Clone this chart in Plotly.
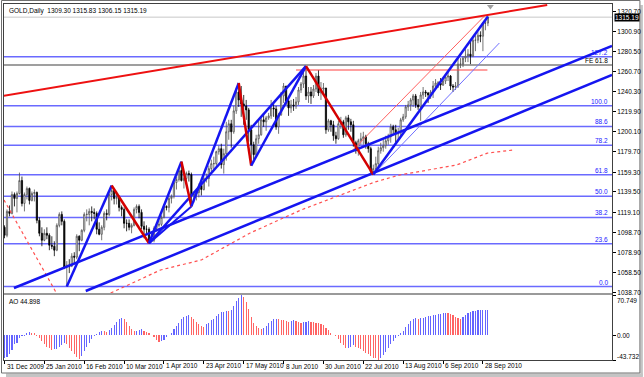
import plotly.graph_objects as go

# ---------------- data ----------------
date_labels = ["31 Dec 2009", "25 Jan 2010", "16 Feb 2010", "10 Mar 2010", "1 Apr 2010",
               "23 Apr 2010", "17 May 2010", "8 Jun 2010", "30 Jun 2010", "22 Jul 2010",
               "13 Aug 2010", "6 Sep 2010", "28 Sep 2010"]
date_pos = [0, 16, 32, 48, 64, 80, 96, 112, 128, 144, 160, 176, 192]

price_ticks = [1038.70, 1058.50, 1078.90, 1098.70, 1119.10, 1139.50, 1159.30, 1179.70,
               1200.10, 1219.90, 1240.30, 1260.70, 1280.50, 1300.90, 1320.70]

opens = [1104, 1096, 1120, 1118, 1137, 1133, 1138, 1151, 1128, 1137, 1143, 1131, 1138, 1139, 1111, 1098,
         1091, 1098, 1096, 1086, 1085, 1081, 1106, 1117, 1110, 1064, 1066, 1065, 1075, 1074, 1095, 1091,
         1101, 1117, 1117, 1120, 1119, 1118, 1102, 1097, 1104, 1118, 1117, 1137, 1141, 1133, 1134, 1124,
         1122, 1108, 1108, 1104, 1106, 1122, 1125, 1119, 1105, 1102, 1102, 1090, 1091, 1103, 1106, 1107,
         1114, 1125, 1124, 1133, 1135, 1149, 1152, 1161, 1151, 1153, 1158, 1157, 1136, 1137, 1139, 1146,
         1142, 1153, 1153, 1163, 1168, 1168, 1180, 1183, 1167, 1178, 1200, 1208, 1200, 1221, 1240, 1232,
         1228, 1226, 1222, 1202, 1187, 1177, 1193, 1197, 1212, 1210, 1214, 1216, 1224, 1223, 1205, 1217,
         1236, 1246, 1231, 1224, 1227, 1226, 1230, 1242, 1248, 1256, 1236, 1240, 1236, 1243, 1256, 1239,
         1243, 1244, 1202, 1211, 1207, 1196, 1193, 1208, 1210, 1197, 1214, 1210, 1207, 1189, 1181, 1191,
         1193, 1195, 1188, 1183, 1160, 1163, 1168, 1181, 1184, 1186, 1191, 1195, 1205, 1202, 1198, 1199,
         1212, 1215, 1225, 1227, 1232, 1236, 1227, 1225, 1237, 1240, 1239, 1237, 1240, 1246, 1249, 1249,
         1247, 1251, 1255, 1256, 1246, 1245, 1246, 1268, 1268, 1274, 1276, 1278, 1276, 1292, 1292, 1297,
         1296, 1309, 1309.30]
highs = [1106, 1122, 1126, 1140, 1139, 1140, 1159, 1155, 1139, 1145, 1144, 1140, 1142, 1140, 1114, 1104,
         1102, 1104, 1098, 1095, 1090, 1108, 1119, 1120, 1112, 1070, 1072, 1078, 1079, 1097, 1096, 1102,
         1119, 1122, 1123, 1125, 1123, 1120, 1109, 1106, 1120, 1122, 1139, 1146, 1142, 1140, 1136, 1126,
         1124, 1112, 1112, 1108, 1124, 1127, 1127, 1122, 1110, 1106, 1104, 1098, 1105, 1109, 1111, 1116,
         1127, 1126, 1136, 1137, 1152, 1155, 1163, 1170, 1155, 1160, 1161, 1159, 1140, 1142, 1148, 1149,
         1155, 1158, 1166, 1172, 1175, 1181, 1186, 1188, 1183, 1210, 1212, 1212, 1226, 1244, 1249, 1246,
         1237, 1232, 1224, 1207, 1190, 1197, 1212, 1215, 1218, 1216, 1219, 1232, 1229, 1226, 1219, 1240,
         1249, 1246, 1234, 1232, 1233, 1235, 1245, 1250, 1260, 1266, 1245, 1245, 1247, 1259, 1262, 1250,
         1249, 1244, 1213, 1212, 1211, 1200, 1211, 1215, 1212, 1216, 1217, 1213, 1211, 1191, 1193, 1199,
         1200, 1197, 1190, 1185, 1167, 1175, 1185, 1189, 1192, 1196, 1198, 1208, 1207, 1207, 1204, 1214,
         1218, 1227, 1231, 1234, 1238, 1238, 1233, 1240, 1245, 1242, 1240, 1242, 1251, 1253, 1251, 1254,
         1254, 1258, 1260, 1257, 1248, 1250, 1275, 1274, 1276, 1283, 1283, 1291, 1295, 1297, 1300, 1301,
         1310, 1312, 1315.83]
lows = [1093, 1094, 1115, 1117, 1125, 1119, 1137, 1125, 1120, 1132, 1127, 1130, 1130, 1108, 1095, 1085,
        1090, 1092, 1081, 1082, 1075, 1080, 1104, 1106, 1062, 1044.5, 1058, 1064, 1068, 1072, 1080, 1090,
        1099, 1110, 1106, 1110, 1112, 1097, 1096, 1091, 1101, 1111, 1115, 1131, 1127, 1127, 1120, 1115,
        1103, 1100, 1101, 1098, 1105, 1118, 1113, 1102, 1093, 1097, 1088, 1089, 1089, 1100, 1104, 1105,
        1113, 1121, 1119, 1128, 1133, 1142, 1150, 1150, 1143, 1149, 1150, 1125, 1129, 1131, 1134, 1136,
        1141, 1149, 1145, 1160, 1162, 1166, 1177, 1163, 1158, 1171, 1192, 1184, 1198, 1218, 1225, 1215,
        1207, 1212, 1190, 1166, 1172, 1175, 1188, 1196, 1205, 1201, 1212, 1213, 1215, 1202, 1198, 1216,
        1229, 1227, 1216, 1219, 1221, 1223, 1227, 1239, 1244, 1232, 1229, 1228, 1234, 1240, 1236, 1232,
        1238, 1198, 1200, 1200, 1191, 1188, 1192, 1203, 1194, 1195, 1202, 1200, 1185, 1178, 1176, 1187,
        1187, 1183, 1179, 1158, 1157, 1160, 1163, 1178, 1180, 1183, 1187, 1189, 1198, 1189, 1192, 1195,
        1210, 1213, 1221, 1221, 1225, 1224, 1222, 1211, 1233, 1235, 1229, 1233, 1234, 1245, 1244, 1242,
        1246, 1248, 1251, 1242, 1240, 1242, 1244, 1264, 1265, 1270, 1270, 1268, 1275, 1281, 1289, 1290,
        1281, 1302, 1306.15]
closes = [1096, 1120, 1118, 1137, 1133, 1138, 1151, 1128, 1137, 1143, 1131, 1138, 1139, 1111, 1098, 1091,
          1098, 1096, 1086, 1085, 1081, 1106, 1117, 1110, 1064, 1066, 1065, 1075, 1074, 1095, 1091, 1101,
          1117, 1117, 1120, 1119, 1118, 1102, 1097, 1104, 1118, 1117, 1137, 1141, 1133, 1134, 1124, 1122,
          1108, 1108, 1104, 1106, 1122, 1125, 1119, 1105, 1102, 1102, 1090, 1091, 1103, 1106, 1107, 1114,
          1125, 1124, 1133, 1135, 1149, 1152, 1161, 1151, 1153, 1158, 1157, 1136, 1137, 1139, 1146, 1142,
          1153, 1153, 1163, 1168, 1168, 1180, 1183, 1167, 1178, 1200, 1208, 1200, 1221, 1240, 1232, 1228,
          1226, 1222, 1202, 1187, 1177, 1193, 1197, 1212, 1210, 1214, 1216, 1224, 1223, 1205, 1217, 1236,
          1246, 1231, 1224, 1227, 1226, 1230, 1242, 1248, 1256, 1236, 1240, 1236, 1243, 1256, 1239, 1243,
          1244, 1202, 1211, 1207, 1196, 1193, 1208, 1210, 1197, 1214, 1210, 1207, 1189, 1181, 1191, 1193,
          1195, 1188, 1183, 1160, 1163, 1168, 1181, 1184, 1186, 1191, 1195, 1205, 1202, 1198, 1199, 1212,
          1215, 1225, 1227, 1232, 1236, 1227, 1225, 1237, 1240, 1239, 1237, 1240, 1246, 1249, 1249, 1247,
          1251, 1255, 1256, 1246, 1245, 1246, 1268, 1268, 1274, 1276, 1278, 1276, 1292, 1292, 1297, 1296,
          1309, 1309, 1315.19]

ao_values = [-41, -39, -33, -26, -16, -13, -5, -2, -1, 3, 5, 4.5, 3, -2, -5, -10, -15, -20, -23, -26,
             -25, -24, -21, -17, -14, -16, -22, -28, -34, -39, -42, -36, -28, -20, -13, -6, -2, 2, 6, 8,
             7, 6, 9, 13, 18, 24, 28, 30, 29, 24, 16, 10, 7, 8, 9, 10, 8, 6, 4, 1,
             -3, -8, -12, -11, -8, -4, 0, 4, 10, 16, 22, 28, 32, 34, 35, 32, 28, 24, 20, 17,
             15, 19, 22, 26, 29, 33, 37, 40, 41, 43, 42, 45, 52, 60, 66, 70.749, 68, 59, 46, 32,
             22, 16, 12, 10, 13, 17, 21, 25, 28, 29, 28, 27, 26, 25, 24, 25, 26, 25, 24, 22,
             23, 24, 25, 24, 23, 22, 21, 20, 18, 13, 9, 4, 1, -2, -7, -13, -18, -23, -22, -20,
             -18, -20, -22, -25, -28, -31, -34, -37, -40, -41, -43.732, -40, -35, -29, -22, -16, -10, -5, -1, 3,
             8, 14, 20, 25, 28, 30, 29, 30, 31, 32, 33, 34, 35, 36, 37, 38, 39, 39.5, 39, 37,
             35, 32, 30, 29, 32, 36, 39, 41, 42, 43, 43.5, 44, 44.3, 44.6, 44.898]

# zigzag pivots (bar, price)
zz_bars = [25, 43, 58, 71, 75, 94, 99, 121, 148, 194]
zz_prices = [1044.5, 1146, 1088, 1170, 1125, 1249, 1166, 1266, 1157, 1315.83]

# trend lines (bar, price end points)
lineA_bars, lineA_prices = [3.8, 243.8], [1043.0, 1286.2]
lineB_bars, lineB_prices = [32.6, 243.8], [1040.0, 1257.1]
redtrend_bars, redtrend_prices = [-0.6, 217.8], [1236.0, 1327.4]
thinred_bars, thinred_prices = [138.6, 193.0], [1178.7, 1317.3]
thinblue_bars, thinblue_prices = [147.8, 198.6], [1156.6, 1289.2]
redh_bars, redh_prices = [117, 193.8], [1262.1, 1262.1]
ma_bars = [42.6, 62.6, 79, 98.6, 119, 148.6, 158.6, 181.4, 193.8, 204.6]
ma_prices = [1038.0, 1061.1, 1071.2, 1098.3, 1121.4, 1149.5, 1156.6, 1166.6, 1178.6, 1181.8]
leftdot_bars, leftdot_prices = [-0.2, 20.6], [1131.5, 1039.0]

fib_labels = ["0.0", "23.6", "38.2", "50.0", "61.8", "78.2", "88.6", "100.0", "127.2"]
fib_prices = [1044.5, 1087.4, 1113.9, 1135.3, 1156.7, 1186.5, 1205.4, 1226.1, 1275.5]
fe_price = 1267.1
last_price = 1315.19
header = "GOLD,Daily  1309.30 1315.83 1306.15 1315.19"
ao_label = "AO 44.898"
ao_ticks = [70.749, 0.0, -43.732]
ao_ticktext = ["70.749", "0.00", "-43.732"]

# ---------------- figure ----------------
W, H = 644, 377
ML, MR, MT, MB = 3, 31, 4, 17
PW, PH = W - ML - MR, H - MT - MB
FONT = "Liberation Sans, Arial, sans-serif"


def px_x(px):
    return (px - ML) / PW


def px_y(py):
    return (H - MB - py) / PH


main_dom = [px_y(293), 1.0]
ao_dom = [0.0, px_y(295)]
xr = [-0.2, 243.8]

bars = list(range(len(closes)))
fig = go.Figure()

BLUE = "#1515f0"
RED = "#d40000"
FIBC = "#6a6aff"

shapes = []
for p in fib_prices:
    shapes.append(dict(type="line", xref="paper", x0=0, x1=1, yref="y", y0=p, y1=p,
                       line=dict(color=FIBC, width=1.5), layer="below"))
shapes.append(dict(type="line", xref="paper", x0=0, x1=1, yref="y", y0=fe_price, y1=fe_price,
                   line=dict(color="#404040", width=1.2), layer="below"))
shapes.append(dict(type="line", xref="paper", x0=0, x1=1, yref="y", y0=last_price, y1=last_price,
                   line=dict(color="#c8c8c8", width=1), layer="below"))


def seg(xs, ys, color, width, dash=None):
    fig.add_trace(go.Scatter(x=xs, y=ys, mode="lines", xaxis="x", yaxis="y",
                             line=dict(color=color, width=width, dash=dash),
                             hoverinfo="skip", showlegend=False, cliponaxis=True))


seg(ma_bars, ma_prices, "#ff5050", 1.2, "dot")
seg(leftdot_bars, leftdot_prices, "#ff5050", 1.2, "dot")
seg(redh_bars, redh_prices, "#ff4040", 1.2)

fig.add_trace(go.Candlestick(x=bars, open=opens, high=highs, low=lows, close=closes,
                             xaxis="x", yaxis="y",
                             increasing=dict(line=dict(color="#505050", width=0.8), fillcolor="#ffffff"),
                             decreasing=dict(line=dict(color="#000000", width=0.8), fillcolor="#000000"),
                             whiskerwidth=0, showlegend=False, hoverinfo="skip"))

seg(thinred_bars, thinred_prices, "#ff6060", 1)
seg(thinblue_bars, thinblue_prices, "#7070ff", 1)
seg(lineA_bars, lineA_prices, BLUE, 2.5)
seg(lineB_bars, lineB_prices, BLUE, 2.5)
seg(redtrend_bars, redtrend_prices, "#ee1111", 2)

# pattern lines
seg([zz_bars[2], zz_bars[4]], [zz_prices[2], zz_prices[4]], BLUE, 2)
seg([zz_bars[2], zz_bars[7]], [zz_prices[2], zz_prices[7]], BLUE, 2.5)

for i in range(len(zz_bars) - 1):
    up = zz_prices[i + 1] > zz_prices[i]
    seg(zz_bars[i:i + 2], zz_prices[i:i + 2], BLUE if up else RED, 2.5)

fig.add_trace(go.Scatter(x=[zz_bars[-1] + 1], y=[1326.0], mode="markers", xaxis="x", yaxis="y",
                         marker=dict(symbol="triangle-down", size=6, color="#a0a0a0"),
                         hoverinfo="skip", showlegend=False))

ao_colors = ["#6464ff" if (i == 0 or v >= ao_values[i - 1]) else "#ff6464"
             for i, v in enumerate(ao_values)]
fig.add_trace(go.Bar(x=bars, y=ao_values, xaxis="x2", yaxis="y2", width=0.45,
                     marker=dict(color=ao_colors, line=dict(width=0)),
                     hoverinfo="skip", showlegend=False))

ann = []
for lbl, p in zip(fib_labels, fib_prices):
    ann.append(dict(xref="paper", x=1, xanchor="right", xshift=-2, yref="y", y=p, yanchor="bottom",
                    text=lbl, showarrow=False, font=dict(family=FONT, size=6.5, color="#2020ff"),
                    yshift=-1))
ann.append(dict(xref="paper", x=1, xanchor="right", xshift=-2, yref="y", y=fe_price, yanchor="bottom",
                text="FE 61.8", showarrow=False, font=dict(family=FONT, size=6.5, color="#000000"),
                yshift=-1))
ann.append(dict(xref="paper", x=0, xanchor="left", xshift=3, yref="paper", y=1, yanchor="top", yshift=-1,
                text=header, showarrow=False, font=dict(family=FONT, size=6.5, color="#000000")))
ann.append(dict(xref="paper", x=0, xanchor="left", xshift=3, yref="paper", y=ao_dom[1], yanchor="top",
                yshift=-1, text=ao_label, showarrow=False, font=dict(family=FONT, size=6.5, color="#000000")))
ann.append(dict(xref="paper", x=1, xanchor="left", xshift=2, yref="y", y=last_price, yanchor="middle",
                text=f"{last_price:.2f}", showarrow=False, bgcolor="#000000", borderpad=0,
                font=dict(family=FONT, size=6.5, color="#ffffff")))
for lbl, pos in zip(date_labels, date_pos):
    ann.append(dict(xref="x2", x=pos, xanchor="left", xshift=0, yref="paper", y=px_y(366),
                    yanchor="middle", text=lbl, showarrow=False,
                    font=dict(family=FONT, size=6.5, color="#000000")))
for lbl, v, ysh in zip(ao_ticktext, ao_ticks, [-5, 0, 4]):
    ann.append(dict(xref="paper", x=1, xanchor="left", xshift=3, yref="y2", y=v, yanchor="middle",
                    yshift=ysh, text=lbl, showarrow=False,
                    font=dict(family=FONT, size=6.5, color="#000000")))

# window frame + shadow (behind texts)
shapes.append(dict(type="rect", xref="paper", yref="paper", x0=px_x(641.5), x1=px_x(644),
                   y0=px_y(376), y1=px_y(5), fillcolor="#c4c4c4", line=dict(width=0), layer="below"))
shapes.append(dict(type="rect", xref="paper", yref="paper", x0=px_x(5), x1=px_x(644),
                   y0=px_y(377), y1=px_y(373.5), fillcolor="#c4c4c4", line=dict(width=0), layer="below"))
shapes.append(dict(type="rect", xref="paper", yref="paper", x0=px_x(0.5), x1=px_x(641),
                   y0=px_y(373), y1=px_y(0.5), line=dict(color="#707070", width=1), layer="below"))
shapes.append(dict(type="rect", xref="paper", yref="paper", x0=0, x1=1,
                   y0=px_y(295), y1=px_y(293), fillcolor="#9a9a9a", line=dict(width=0)))

axis_common = dict(showgrid=False, zeroline=False, showline=True, mirror=True,
                   linecolor="#404040", linewidth=1)
fig.update_layout(
    width=W, height=H, margin=dict(l=ML, r=MR, t=MT, b=MB),
    paper_bgcolor="white", plot_bgcolor="white", showlegend=False,
    font=dict(family=FONT, size=6.5, color="#000000"),
    xaxis=dict(domain=[0, 1], range=xr, anchor="y", showticklabels=False, ticks="",
               rangeslider=dict(visible=False), **axis_common),
    yaxis=dict(domain=main_dom, range=[1038.0, 1328.4], side="right", anchor="x",
               tickvals=price_ticks, ticktext=[f"{t:.2f}" for t in price_ticks],
               ticks="outside", ticklen=3, tickcolor="#000", tickfont=dict(size=6.5),
               **axis_common),
    xaxis2=dict(domain=[0, 1], range=xr, anchor="y2", matches="x", tickvals=date_pos,
                ticks="outside", ticklen=3, tickcolor="#000", showticklabels=False, **axis_common),
    yaxis2=dict(domain=ao_dom, range=[-43.732, 70.749], side="right", anchor="x2",
                tickvals=ao_ticks, ticks="outside", ticklen=3, tickcolor="#000",
                showticklabels=False, **axis_common),
    shapes=shapes, annotations=ann, bargap=0,
)

fig.write_html("out.html", config={"displayModeBar": False, "staticPlot": True},
               post_script="document.body.style.margin='0';document.body.style.overflow='hidden';")
